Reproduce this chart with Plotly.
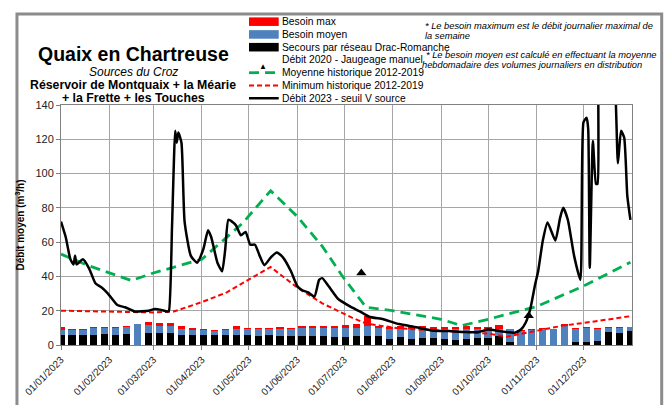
import pandas as pd
import plotly.graph_objects as go

# weekly demand bars (m3/h)
week_start = "2023-01-01"
besoin_max = [10.4, 9.6, 9.6, 10.4, 10.4, 10.4, 11.3, 12.4, 13.7, 12.6, 12.6, 10.9, 10.0,
              9.4, 8.9, 9.3, 10.9, 10.0, 10.0, 10.0, 10.4, 10.0, 10.9, 10.9, 11.3, 11.3,
              11.7, 12.2, 17.2, 11.3, 10.4, 10.9, 10.9, 11.3, 10.4, 10.4, 10.4, 10.9, 10.4,
              10.4, 11.7, 9.4, 8.5, 9.1, 9.8, 9.4, 12.2, 9.8, 10.4, 9.8, 10.4, 10.4, 10.6]
besoin_moyen = [8.9, 8.7, 8.7, 9.8, 9.8, 9.8, 10.6, 12.2, 11.7, 11.3, 11.0, 9.1, 8.9,
                8.9, 8.3, 8.9, 9.4, 9.4, 9.1, 9.1, 9.1, 9.1, 9.8, 10.0, 10.0, 10.0,
                9.8, 9.8, 11.3, 10.0, 9.4, 9.4, 9.4, 9.4, 9.4, 9.4, 9.4, 9.4, 9.1,
                9.1, 9.1, 9.1, 8.3, 8.9, 9.6, 9.1, 10.9, 9.4, 9.8, 9.1, 9.8, 9.8, 10.4]
secours = [6.1, 6.1, 6.1, 6.1, 6.5, 6.1, 6.7, 0, 7.2, 7.2, 7.2, 6.1, 6.1,
           6.1, 5.7, 5.7, 6.1, 5.6, 5.0, 5.7, 5.4, 5.0, 5.2, 5.0, 5.0, 4.6,
           4.8, 5.0, 5.4, 5.0, 3.3, 4.6, 3.5, 3.9, 3.9, 3.3, 3.0, 3.5, 3.9,
           4.3, 5.4, 2.0, 0, 0, 0, 0, 0, 2.0, 2.0, 2.6, 7.6, 7.2, 8.0]

# historical curves
moy_dates = ["2023-01-01", "2023-01-18", "2023-02-15", "2023-03-01", "2023-04-01", "2023-04-27",
             "2023-05-15", "2023-06-01", "2023-06-17", "2023-06-30", "2023-07-15", "2023-08-01",
             "2023-09-01", "2023-09-14", "2023-10-01", "2023-11-01", "2023-12-01", "2023-12-31"]
moy_vals = [53, 46.5, 37.6, 42, 50, 71, 90, 75, 57.6, 40, 22, 20, 15, 11.3, 15, 22.4, 34.4, 48.3]

min_dates = ["2023-01-01", "2023-03-01", "2023-03-14", "2023-04-01", "2023-04-17", "2023-05-15",
             "2023-06-01", "2023-06-17", "2023-07-06", "2023-07-15", "2023-08-04", "2023-08-25",
             "2023-09-15", "2023-10-01", "2023-10-13", "2023-10-28", "2023-11-18", "2023-12-10",
             "2023-12-31"]
min_vals = [20, 19, 19.5, 25, 30.7, 45.5, 33.5, 24.3, 16, 12.5, 9.8, 8.5, 7.6, 6.7, 4.8, 7.6,
            11.3, 14, 16.8]

# manual gauging points
jaug_dates = ["2023-07-12", "2023-10-27"]
jaug_vals = [42, 17]

# flow 2023
debit_dates = ["2023-01-01", "2023-01-04", "2023-01-07", "2023-01-09", "2023-01-10", "2023-01-11",
               "2023-01-15", "2023-01-19", "2023-01-23", "2023-01-27", "2023-01-31", "2023-02-06",
               "2023-02-11", "2023-02-17", "2023-02-26", "2023-03-02", "2023-03-06", "2023-03-10",
               "2023-03-11", "2023-03-13", "2023-03-15", "2023-03-16", "2023-03-17", "2023-03-19",
               "2023-03-21", "2023-03-25", "2023-03-29", "2023-04-02", "2023-04-05", "2023-04-07",
               "2023-04-11", "2023-04-14", "2023-04-16", "2023-04-18", "2023-04-21", "2023-04-23",
               "2023-04-26", "2023-04-29", "2023-05-02", "2023-05-05", "2023-05-08", "2023-05-11",
               "2023-05-15", "2023-05-19", "2023-05-23", "2023-05-28", "2023-06-01", "2023-06-04",
               "2023-06-08", "2023-06-12", "2023-06-15", "2023-06-17", "2023-06-21", "2023-06-27",
               "2023-07-05", "2023-07-11", "2023-07-17", "2023-07-26", "2023-08-05", "2023-08-16",
               "2023-08-26", "2023-09-06", "2023-09-16", "2023-09-25", "2023-10-01", "2023-10-08",
               "2023-10-18", "2023-10-22", "2023-10-25", "2023-10-28", "2023-10-31", "2023-11-02",
               "2023-11-05", "2023-11-08", "2023-11-13", "2023-11-16", "2023-11-18", "2023-11-21",
               "2023-11-25", "2023-11-29", "2023-12-01", "2023-12-03", "2023-12-04", "2023-12-05",
               "2023-12-07", "2023-12-09", "2023-12-10", "2023-12-11", "2023-12-15", "2023-12-20",
               "2023-12-23", "2023-12-25", "2023-12-27", "2023-12-29", "2023-12-31"]
debit_vals = [72, 63, 50, 47, 52, 47,
              50, 44.6, 36, 33.5, 30, 23.3,
              22, 19.6, 20, 21, 20.5, 19.6,
              20, 70, 125, 118, 124, 118,
              72, 52, 48, 56, 67, 63,
              48, 43, 56, 73, 71.5, 69.6,
              64, 66, 58.5, 58.5, 52, 46.5,
              51, 54, 51, 43, 34.4, 32,
              30.7, 28.3, 38, 39, 34.4, 27,
              22.4, 19.6, 16.5, 15, 12.2, 10.4,
              8.5, 8.1, 7.6, 7.6, 9, 8.1,
              7.2, 9, 13, 21, 35, 43,
              61, 71.5, 61, 74, 80, 73,
              52, 38, 130, 132.6, 126, 45,
              119, 94, 94, 170, 180, 170,
              106, 125, 121, 87, 73]

months = ["01/01/2023", "01/02/2023", "01/03/2023", "01/04/2023", "01/05/2023", "01/06/2023",
          "01/07/2023", "01/08/2023", "01/09/2023", "01/10/2023", "01/11/2023", "01/12/2023"]

# the page body adds an 8px margin all round, so the figure is 16px smaller
W, H = 656, 401
L, R, T, B = 47, 32, 97, 52
FONT = "Liberation Sans, Arial, sans-serif"


def px(x):
    # x in screen pixels of the final picture -> paper fraction
    return (x - 8 - L) / (W - L - R)


def py(y):
    return (H - B - (y - 8)) / (H - T - B)


weeks = pd.date_range(week_start, periods=len(besoin_max), freq="7D")
bar_w = 4.6 * 86400000

fig = go.Figure()
fig.add_trace(go.Bar(x=weeks, y=besoin_max, width=bar_w, marker_color="#ff0000",
                     marker_line_width=0, name="Besoin max"))
fig.add_trace(go.Bar(x=weeks, y=besoin_moyen, width=bar_w, marker_color="#4f81bd",
                     marker_line_width=0, name="Besoin moyen"))
fig.add_trace(go.Bar(x=weeks, y=secours, width=bar_w, marker_color="#000000",
                     marker_line_width=0, name="Secours par réseau Drac-Romanche"))
fig.add_trace(go.Scatter(x=moy_dates, y=moy_vals, mode="lines",
                         line=dict(color="#00b050", width=2.8, dash="10px,6px"),
                         name="Moyenne historique 2012-2019"))
fig.add_trace(go.Scatter(x=min_dates, y=min_vals, mode="lines",
                         line=dict(color="#ff0000", width=2, dash="5px,3px"),
                         name="Minimum historique 2012-2019"))
fig.add_trace(go.Scatter(x=debit_dates, y=debit_vals, mode="lines",
                         line=dict(color="#000000", width=2.5, shape="spline", smoothing=0.5),
                         name="Débit 2023 - seuil V source"))
fig.add_trace(go.Scatter(x=jaug_dates, y=jaug_vals, mode="markers",
                         marker=dict(symbol="triangle-up", color="#000000", size=9),
                         name="Débit 2020 - Jaugeage manuel"))

shapes = []
annotations = []

# outer frame
shapes.append(dict(type="path", xref="paper", yref="paper",
                   path="M %f %f L %f %f L %f %f L %f %f" % (px(10.5), py(420), px(10.5), py(9.5),
                                                             px(662), py(9.5), px(662), py(420)),
                   line=dict(color="#8c8c8c", width=3)))

# hand-made legend (Excel style, tight rows)
leg_y0, leg_dy = 17.5, 13.4
items = [("bar", "#ff0000", "Besoin max"),
         ("bar", "#4f81bd", "Besoin moyen"),
         ("bar", "#000000", "Secours par réseau Drac-Romanche"),
         ("tri", "#000000", "Débit 2020 - Jaugeage manuel"),
         ("dash", "#00b050", "Moyenne historique 2012-2019"),
         ("dot", "#ff0000", "Minimum historique 2012-2019"),
         ("line", "#000000", "Débit 2023 - seuil V source")]
for i, (kind, col, label) in enumerate(items):
    yc = leg_y0 + i * leg_dy
    if kind == "bar":
        shapes.append(dict(type="rect", xref="paper", yref="paper", x0=px(245), x1=px(275),
                           y0=py(yc - 4.5), y1=py(yc + 4.5), fillcolor=col, line_width=0))
    elif kind == "tri":
        annotations.append(dict(x=px(259), y=py(yc), xref="paper", yref="paper", text="▲",
                                showarrow=False, font=dict(size=8, color=col, family=FONT)))
    else:
        dash = {"dash": "10px,6px", "dot": "5px,3px", "line": "solid"}[kind]
        wdt = {"dash": 2.8, "dot": 2, "line": 2.5}[kind]
        shapes.append(dict(type="line", xref="paper", yref="paper", x0=px(245), x1=px(275),
                           y0=py(yc), y1=py(yc), line=dict(color=col, width=wdt, dash=dash)))
    annotations.append(dict(x=px(276), y=py(yc), xref="paper", yref="paper", text=label,
                            xanchor="left", yanchor="middle", showarrow=False,
                            font=dict(size=10.3, color="#000000", family=FONT)))

# titles
titles = [("<b>Quaix en Chartreuse</b>", 51, 19.5),
          ("<i>Sources du Croz</i>", 70.5, 12),
          ("<b>Réservoir de Montquaix + la Méarie</b>", 84, 12.3),
          ("<b>+ la Frette + les Touches</b>", 98, 12.3)]
for text, yc, size in titles:
    annotations.append(dict(x=px(128), y=py(yc), xref="paper", yref="paper", text=text,
                            xanchor="center", yanchor="middle", showarrow=False,
                            font=dict(size=size, color="#000000", family=FONT)))

# footnotes
notes = [("* Le besoin maximum est le débit journalier maximal de", 421, 22.5),
         ("la semaine", 421, 33),
         ("* Le besoin moyen est calculé en effectuant la moyenne", 422, 52),
         ("hebdomadaire des volumes journaliers en distribution", 418, 63)]
for text, xl, yc in notes:
    annotations.append(dict(x=px(xl), y=py(yc), xref="paper", yref="paper",
                            text="<i>" + text + "</i>", xanchor="left", yanchor="middle",
                            showarrow=False, font=dict(size=9.3, color="#000000", family=FONT)))

fig.update_layout(
    width=W, height=H,
    margin=dict(l=L, r=R, t=T, b=B),
    paper_bgcolor="white", plot_bgcolor="white",
    barmode="overlay", bargap=0,
    showlegend=False,
    font=dict(family=FONT, color="#000000"),
    shapes=shapes, annotations=annotations,
    xaxis=dict(
        type="date", range=["2023-01-01", "2024-01-01"],
        tickvals=pd.date_range("2023-01-01", periods=12, freq="MS"), ticktext=months,
        tickangle=-45, tickfont=dict(size=10, color="#222222"),
        showgrid=True, gridcolor="#a6a6a6", gridwidth=1,
        showline=True, linecolor="#808080", linewidth=1, mirror=True,
        ticks="outside", ticklen=4, tickcolor="#808080",
    ),
    yaxis=dict(
        range=[0, 140], dtick=20, tickfont=dict(size=11, color="#222222"),
        showgrid=True, gridcolor="#a6a6a6", gridwidth=1,
        showline=True, linecolor="#808080", linewidth=1, mirror=True,
        ticks="outside", ticklen=4, tickcolor="#808080",
        title=dict(text="<b>Débit moyen (m<sup>3</sup>/h)</b>", font=dict(size=10), standoff=8),
        zeroline=False,
    ),
)

fig.write_html("out.html")
